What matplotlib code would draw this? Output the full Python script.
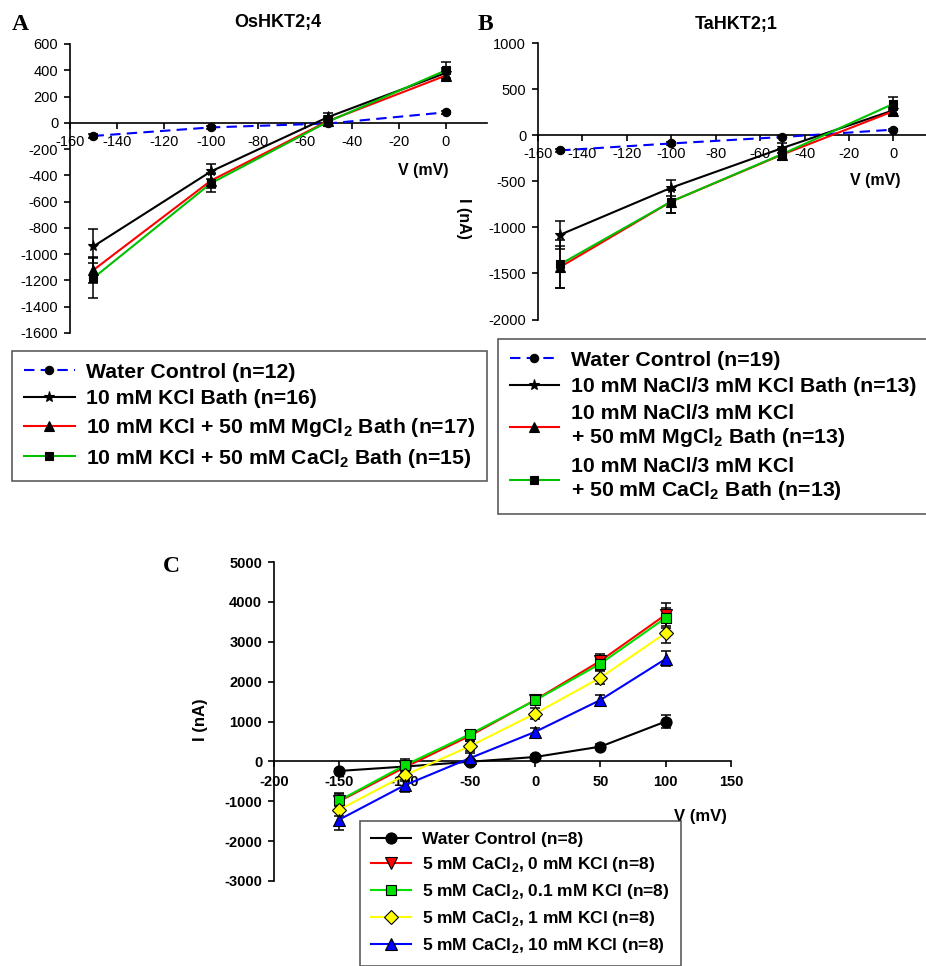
import matplotlib
matplotlib.use('Agg')
import matplotlib.pyplot as plt
from matplotlib.lines import Line2D

plt.rcParams['font.family'] = ['Liberation Sans', 'DejaVu Sans']
plt.rcParams['mathtext.fontset'] = 'custom'
plt.rcParams['mathtext.rm'] = 'Liberation Sans'
plt.rcParams['mathtext.bf'] = 'Liberation Sans:bold'
plt.rcParams['axes.unicode_minus'] = False

# ---------------- data ----------------
volts_ab = [-150, -100, -50, 0]

a_water = [-100, -35, -5, 80]
a_water_err = [12, 10, 8, 10]
a_kcl = [-940, -370, 45, 380]
a_kcl_err = [130, 60, 30, 40]
a_mg = [-1120, -440, 15, 360]
a_mg_err = [100, 55, 30, 45]
a_ca = [-1180, -460, 10, 400]
a_ca_err = [150, 70, 30, 65]

b_water = [-165, -90, -20, 60]
b_water_err = [15, 15, 10, 10]
b_kcl = [-1080, -570, -140, 270]
b_kcl_err = [150, 85, 50, 40]
b_mg = [-1430, -720, -210, 260]
b_mg_err = [230, 120, 60, 50]
b_ca = [-1400, -720, -205, 340]
b_ca_err = [260, 125, 60, 70]

volts_c = [-150, -100, -50, 0, 50, 100]
c_water = [-240, -130, -10, 110, 370, 1000]
c_water_err = [40, 50, 40, 40, 60, 170]
c_k0 = [-1000, -150, 640, 1540, 2520, 3680]
c_k0_err = [200, 150, 120, 120, 170, 280]
c_k01 = [-980, -100, 680, 1530, 2450, 3600]
c_k01_err = [150, 150, 100, 100, 150, 250]
c_k1 = [-1210, -350, 380, 1200, 2100, 3220]
c_k1_err = [150, 150, 130, 130, 170, 250]
c_k10 = [-1460, -600, 80, 740, 1540, 2570]
c_k10_err = [250, 170, 120, 100, 120, 190]

labels_a = ["Water Control (n=12)", "10 mM KCl Bath (n=16)",
            r"10 mM KCl + 50 mM MgCl$_\mathbf{2}$ Bath (n=17)",
            r"10 mM KCl + 50 mM CaCl$_\mathbf{2}$ Bath (n=15)"]
labels_b = ["Water Control (n=19)", "10 mM NaCl/3 mM KCl Bath (n=13)",
            "10 mM NaCl/3 mM KCl\n" + r"+ 50 mM MgCl$_\mathbf{2}$ Bath (n=13)",
            "10 mM NaCl/3 mM KCl\n" + r"+ 50 mM CaCl$_\mathbf{2}$ Bath (n=13)"]
labels_c = ["Water Control (n=8)",
            r"5 mM CaCl$_\mathbf{2}$, 0 mM KCl (n=8)",
            r"5 mM CaCl$_\mathbf{2}$, 0.1 mM KCl (n=8)",
            r"5 mM CaCl$_\mathbf{2}$, 1 mM KCl (n=8)",
            r"5 mM CaCl$_\mathbf{2}$, 10 mM KCl (n=8)"]

# ---------------- figure ----------------
W, H = 926, 966
fig = plt.figure(figsize=(W / 100, H / 100), dpi=100)


def px_axes(l, t, r, b):
    return fig.add_axes([l / W, 1 - b / H, (r - l) / W, (b - t) / H])


def style_axes(ax, bold=False, fs=10.5):
    for s in ('top', 'right'):
        ax.spines[s].set_visible(False)
    ax.spines['bottom'].set_position(('data', 0))
    for s in ('left', 'bottom'):
        ax.spines[s].set_linewidth(1.2)
    ax.tick_params(direction='out', length=4, width=1.2, pad=4.5, labelsize=fs)
    for lab in ax.get_xticklabels() + ax.get_yticklabels():
        lab.set_fontweight('bold' if bold else 'normal')
    ax.patch.set_alpha(0)


def series(ax, x, y, e, color, marker, ms, ls='-', mfc='black', mec='black', z=3):
    ax.errorbar(x, y, yerr=e, fmt='none', ecolor='black', elinewidth=1.1,
                capsize=3.5, capthick=1.1, zorder=z)
    ax.plot(x, y, color=color, ls=ls, lw=1.5, zorder=z + 0.1)
    ax.plot(x, y, ls='none', marker=marker, ms=ms, mfc=mfc, mec=mec,
            mew=0.8, zorder=z + 0.2)


def handle(color, marker, ms, ls='-', mfc='black', mec='black'):
    return Line2D([0], [0], color=color, ls=ls, lw=1.5, marker=marker, ms=ms,
                  mfc=mfc, mec=mec, mew=0.8)


# ---------- Panel A ----------
axA = px_axes(70, 44, 487, 333)
series(axA, volts_ab, a_water, a_water_err, 'blue', 'o', 6, ls=(0, (5, 3)))
series(axA, volts_ab, a_kcl, a_kcl_err, 'black', '*', 8)
series(axA, volts_ab, a_mg, a_mg_err, 'red', '^', 6.5)
series(axA, volts_ab, a_ca, a_ca_err, '#00c000', 's', 5.5)
axA.set_xlim(-160, 17.5)
axA.set_ylim(-1600, 600)
axA.set_xticks(range(-160, 1, 20))
axA.set_yticks(range(-1600, 601, 200))
style_axes(axA)

# ---------- Panel B ----------
axB = px_axes(538, 43, 926, 319.5)
series(axB, volts_ab, b_water, b_water_err, 'blue', 'o', 6, ls=(0, (5, 3)))
series(axB, volts_ab, b_kcl, b_kcl_err, 'black', '*', 8)
series(axB, volts_ab, b_mg, b_mg_err, 'red', '^', 6.5)
series(axB, volts_ab, b_ca, b_ca_err, '#00c000', 's', 5.5)
axB.set_xlim(-160, 14.7)
axB.set_ylim(-2000, 1000)
axB.set_xticks(range(-160, 1, 20))
axB.set_yticks(range(-2000, 1001, 500))
style_axes(axB)

# ---------- Panel C ----------
axC = px_axes(274, 562, 731, 881)
series(axC, volts_c, c_water, c_water_err, 'black', 'o', 8)
series(axC, volts_c, c_k0, c_k0_err, 'red', 'v', 8, mfc='red')
series(axC, volts_c, c_k01, c_k01_err, '#00e000', 's', 7.5, mfc='#00e000')
series(axC, volts_c, c_k1, c_k1_err, '#ffff00', 'D', 7, mfc='#ffff00')
series(axC, volts_c, c_k10, c_k10_err, 'blue', '^', 8, mfc='blue')
axC.set_xlim(-200, 150)
axC.set_ylim(-3000, 5000)
axC.set_xticks(range(-200, 151, 50))
axC.set_yticks(range(-3000, 5001, 1000))
style_axes(axC, bold=True, fs=10.5)
axC.tick_params(axis='x', pad=6)

# ---------- texts ----------
def ftext(x, y, s, **kw):
    fig.text(x / W, 1 - y / H, s, **kw)

ftext(20, 25, "A", family='Liberation Serif', fontweight='bold', fontsize=17,
      ha='center', va='center')
ftext(485, 25, "B", family='Liberation Serif', fontweight='bold', fontsize=17,
      ha='center', va='center')
ftext(171, 567, "C", family='Liberation Serif', fontweight='bold', fontsize=17,
      ha='center', va='center')
ftext(278, 22, "OsHKT2;4", fontweight='bold', fontsize=13, ha='center', va='center')
ftext(736, 24, "TaHKT2;1", fontweight='bold', fontsize=13, ha='center', va='center')
ftext(423, 170, "V (mV)", fontweight='bold', fontsize=11.5, ha='center', va='center')
ftext(875, 181, "V (mV)", fontweight='bold', fontsize=11.5, ha='center', va='center')
ftext(464, 218, "I (nA)", fontweight='bold', fontsize=11.5, ha='center',
      va='center', rotation=270)
ftext(700, 816, "V (mV)", fontweight='bold', fontsize=12, ha='center', va='center')
ftext(200, 720, "I (nA)", fontweight='bold', fontsize=12, ha='center',
      va='center', rotation=90)

# ---------- legends ----------
hA = [handle('blue', 'o', 6, ls=(0, (5, 3))), handle('black', '*', 8),
      handle('red', '^', 6.5), handle('#00c000', 's', 5.5)]
legA = fig.legend(hA, labels_a, loc='upper left',
                  bbox_to_anchor=(12 / W, 1 - 351 / H),
                  prop={'weight': 'bold', 'size': 15.3}, frameon=True,
                  fancybox=False, edgecolor='#333333', borderpad=0.55,
                  handlelength=2.4, handletextpad=0.55, labelspacing=0.36,
                  borderaxespad=0)
legA.get_frame().set_linewidth(1.2)

hB = [handle('blue', 'o', 6, ls=(0, (5, 3))), handle('black', '*', 8),
      handle('red', '^', 6.5), handle('#00c000', 's', 5.5)]
legB = fig.legend(hB, labels_b, loc='upper left',
                  bbox_to_anchor=(498 / W, 1 - 339 / H),
                  prop={'weight': 'bold', 'size': 15.3}, frameon=True,
                  fancybox=False, edgecolor='#333333', borderpad=0.55,
                  handlelength=2.3, handletextpad=0.6, labelspacing=0.36,
                  borderaxespad=0)
legB.get_frame().set_linewidth(1.2)

hC = [handle('black', 'o', 8), handle('red', 'v', 8, mfc='red'),
      handle('#00e000', 's', 7.5, mfc='#00e000'),
      handle('#ffff00', 'D', 7, mfc='#ffff00'),
      handle('blue', '^', 8, mfc='blue')]
legC = fig.legend(hC, labels_c, loc='upper left',
                  bbox_to_anchor=(360 / W, 1 - 821 / H),
                  prop={'weight': 'bold', 'size': 12.5}, frameon=True,
                  fancybox=False, edgecolor='#333333', borderpad=0.65,
                  handlelength=2.3, handletextpad=0.6, labelspacing=0.45,
                  borderaxespad=0)
legC.get_frame().set_linewidth(1.2)

fig.savefig('out.png', dpi=100)
